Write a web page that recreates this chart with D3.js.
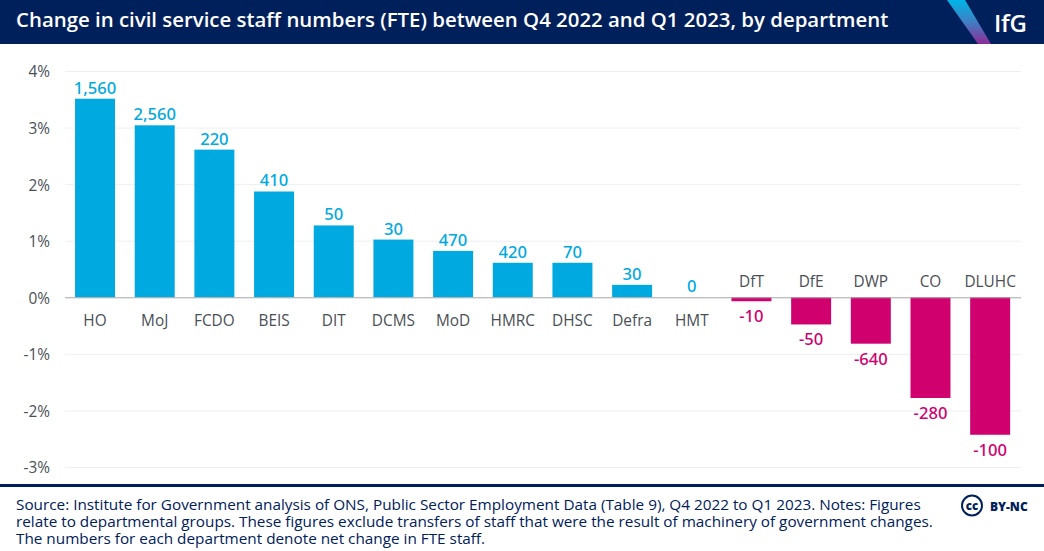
<!DOCTYPE html>
<html>
<head>
<meta charset="utf-8">
<script src="https://cdn.jsdelivr.net/npm/d3@7/dist/d3.min.js"></script>
<style>
html,body{margin:0;padding:0;background:#fff;}
svg{display:block;font-family:"Open Sans",sans-serif;}
</style>
</head>
<body>
<svg id="chart" width="1044" height="551"></svg>
<script>
const departments = ["HO","MoJ","FCDO","BEIS","DIT","DCMS","MoD","HMRC","DHSC","Defra","HMT","DfT","DfE","DWP","CO","DLUHC"];
const percentChange = [3.51,3.04,2.61,1.87,1.27,1.02,0.82,0.61,0.61,0.22,0,-0.07,-0.48,-0.82,-1.78,-2.43];
const valueLabels = ["1,560","2,560","220","410","50","30","470","420","70","30","0","-10","-50","-640","-280","-100"];
const percentTicks = [-3,-2,-1,0,1,2,3,4];
const titleText = "Change in civil service staff numbers (FTE) between Q4 2022 and Q1 2023, by department";
const sourceLines = [
  "Source: Institute for Government analysis of ONS, Public Sector Employment Data (Table 9), Q4 2022 to Q1 2023. Notes: Figures",
  "relate to departmental groups. These figures exclude transfers of staff that were the result of machinery of government changes.",
  "The numbers for each department denote net change in FTE staff."
];

const NAVY = "#00205b", BLUE = "#00a9e0", PINK = "#d0006f", GREY = "#4a4f55";
const svg = d3.select("#chart");

// Header band with the angled gradient stripe and logotype
const defs = svg.append("defs");
const stripe = defs.append("linearGradient").attr("id","stripe")
  .attr("x1","0").attr("y1","0").attr("x2","0").attr("y2","1");
stripe.append("stop").attr("offset","0").attr("stop-color","#00b5e6");
stripe.append("stop").attr("offset","0.5").attr("stop-color","#3f7fc4");
stripe.append("stop").attr("offset","1").attr("stop-color","#8e2c96");

svg.append("rect").attr("width",1044).attr("height",44).attr("fill",NAVY);
svg.append("path").attr("d","M947,0 L965,0 L991,44 L978,44 Z").attr("fill","url(#stripe)");
svg.append("text").attr("x",16).attr("y",27).attr("fill","#fff")
  .attr("font-size",20.4).attr("font-weight",600).text(titleText);
svg.append("text").attr("x",994).attr("y",32).attr("fill","#fff")
  .attr("font-size",24).attr("font-weight",600).attr("letter-spacing",-0.3).text("IfG");

// Scales
const x = d3.scaleBand().domain(departments).range([65.2,1020.0]).paddingInner(0.33).paddingOuter(0.165);
const y = d3.scaleLinear().domain([-3,4]).range([467,71]);

// Gridlines and percentage axis
const yAxis = d3.axisLeft(y).tickValues(percentTicks).tickFormat(d => d + "%").tickSize(0).tickPadding(15);
const yG = svg.append("g").attr("transform","translate(65,1)").call(yAxis);
yG.select(".domain").remove();
yG.selectAll("text").attr("fill",GREY).attr("font-size",15.4).attr("font-family","'Open Sans',sans-serif");
yG.selectAll("line").remove();

svg.append("g").selectAll("line").data(percentTicks.filter(t => t !== 0)).join("line")
  .attr("x1",65).attr("x2",1021)
  .attr("y1",d => y(d)+0.5).attr("y2",d => y(d)+0.5)
  .attr("stroke","#eeeff1").attr("stroke-width",1);

const rows = departments.map((name,i) => ({name, value:percentChange[i], label:valueLabels[i]}));

// Bars
svg.append("g").selectAll("rect").data(rows).join("rect")
  .attr("x",d => x(d.name)).attr("width",x.bandwidth())
  .attr("y",d => y(Math.max(0,d.value)))
  .attr("height",d => Math.abs(y(d.value)-y(0)))
  .attr("fill",d => d.value < 0 ? PINK : BLUE);

// Zero baseline
svg.append("line").attr("x1",65).attr("x2",1021)
  .attr("y1",y(0)+0.5).attr("y2",y(0)+0.5).attr("stroke","#a3a6a9").attr("stroke-width",1);

// Department names sit on the far side of the baseline from each bar
svg.append("g").selectAll("text").data(rows).join("text")
  .attr("x",d => x(d.name)+x.bandwidth()/2)
  .attr("y",d => d.value < 0 ? y(0)-10 : y(0)+28.5)
  .attr("text-anchor","middle").attr("fill",GREY).attr("font-size",15.4)
  .text(d => d.name);

// Net change labels at the bar ends
svg.append("g").selectAll("text").data(rows).join("text")
  .attr("x",d => x(d.name)+x.bandwidth()/2)
  .attr("y",d => d.value < 0 ? y(d.value)+21 : y(d.value)-5)
  .attr("text-anchor","middle").attr("font-size",16.6).attr("font-weight",500)
  .attr("font-family","'Noto Sans',sans-serif")
  .attr("fill",d => d.value < 0 ? PINK : BLUE)
  .text(d => d.label);

// Footer rule, source note and licence mark
svg.append("rect").attr("x",0).attr("y",484).attr("width",1044).attr("height",3).attr("fill",NAVY);
svg.append("g").selectAll("text").data(sourceLines).join("text")
  .attr("x",16).attr("y",(d,i) => 510 + i*17)
  .attr("fill",NAVY).attr("font-size",15.3).text(d => d);

svg.append("circle").attr("cx",972).attr("cy",505.5).attr("r",10)
  .attr("fill","none").attr("stroke",NAVY).attr("stroke-width",2);
svg.append("text").attr("x",972).attr("y",509.5).attr("text-anchor","middle")
  .attr("font-size",11.5).attr("font-weight",800).attr("fill",NAVY).text("cc");
svg.append("text").attr("x",990).attr("y",510.5).attr("font-size",12)
  .attr("font-weight",800).attr("fill",NAVY).text("BY-NC");
</script>
</body>
</html>
